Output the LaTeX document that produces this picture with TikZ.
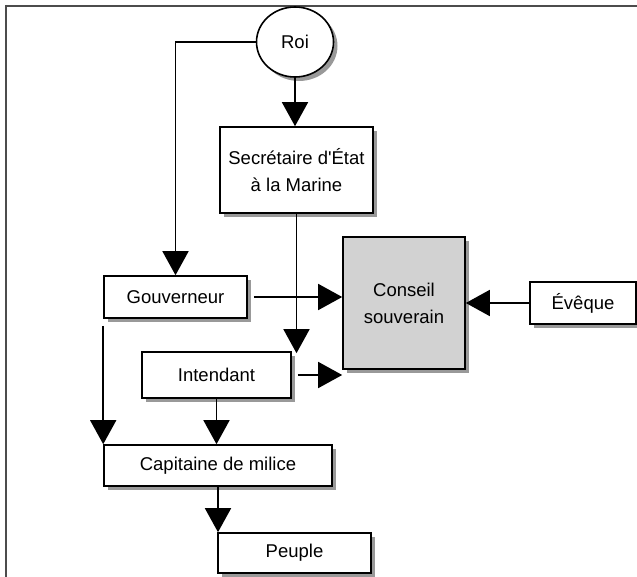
\documentclass[tikz,border=0pt]{standalone}
\usepackage{fontspec}
\setmainfont{Liberation Sans}
\usepackage{tikz}
\usetikzlibrary{positioning, arrows.meta, shapes.geometric, shadows}

\begin{document}
\begin{tikzpicture}[
    x=1pt, y=-1pt,
    box/.style={rectangle, draw, line width=1.6pt, fill=white, align=center, inner sep=0pt,
        font=\fontsize{18.5}{27}\selectfont,
        drop shadow={shadow xshift=4pt, shadow yshift=-4pt, fill=black!40, opacity=1}},
    arr/.style={-{Triangle[length=24pt, width=26pt]}, line width=1.6pt},
    frame/.style={line width=2.2pt, black!70},
]
\useasboundingbox (0,0) rectangle (637,577);

% frame lines (top and left only)
\draw[frame] (5,6) -- (637,6);
\draw[frame] (6,5) -- (6,577);

\node[box, ellipse, minimum width=77pt, minimum height=70pt] (roi) at (295,42) {Roi};
\node[box, minimum width=153pt, minimum height=86pt] (secr) at (296.5,170) {Secrétaire d\textquotesingle État\\à la Marine};
\node[box, minimum width=143pt, minimum height=42pt] (gouv) at (175.5,297) {Gouverneur};
\node[box, fill=gray!35, minimum width=122pt, minimum height=132pt] (conseil) at (404,303) {Conseil\\souverain};
\node[box, minimum width=106pt, minimum height=42pt] (eveque) at (583,303) {Évêque};
\node[box, minimum width=149pt, minimum height=46pt] (intendant) at (216.5,375) {Intendant};
\node[box, minimum width=228pt, minimum height=41pt] (capitaine) at (218,465.5) {Capitaine de milice};
\node[box, minimum width=153pt, minimum height=40pt] (peuple) at (294.5,553) {Peuple};

\draw[arr] (roi.south) -- (roi.south |- secr.north);
\draw[arr] (roi.west) -| (gouv.north);
\draw[arr] (secr.south) -- ([yshift=-2pt]secr.south |- intendant.north);
\draw[arr, shorten <=6pt] (gouv.east) -- (gouv.east -| conseil.west);
\draw[arr] (eveque.west) -- (eveque.west -| conseil.east);
\draw[arr, shorten <=6pt] (intendant.east) -- (intendant.east -| conseil.west);
\draw[arr, shorten <=7pt] (gouv.south west) -- (capitaine.north west);
\draw[arr] (intendant.south) -- (intendant.south |- capitaine.north);
\draw[arr] (capitaine.south) -- (capitaine.south |- peuple.north);

\end{tikzpicture}
\end{document}
